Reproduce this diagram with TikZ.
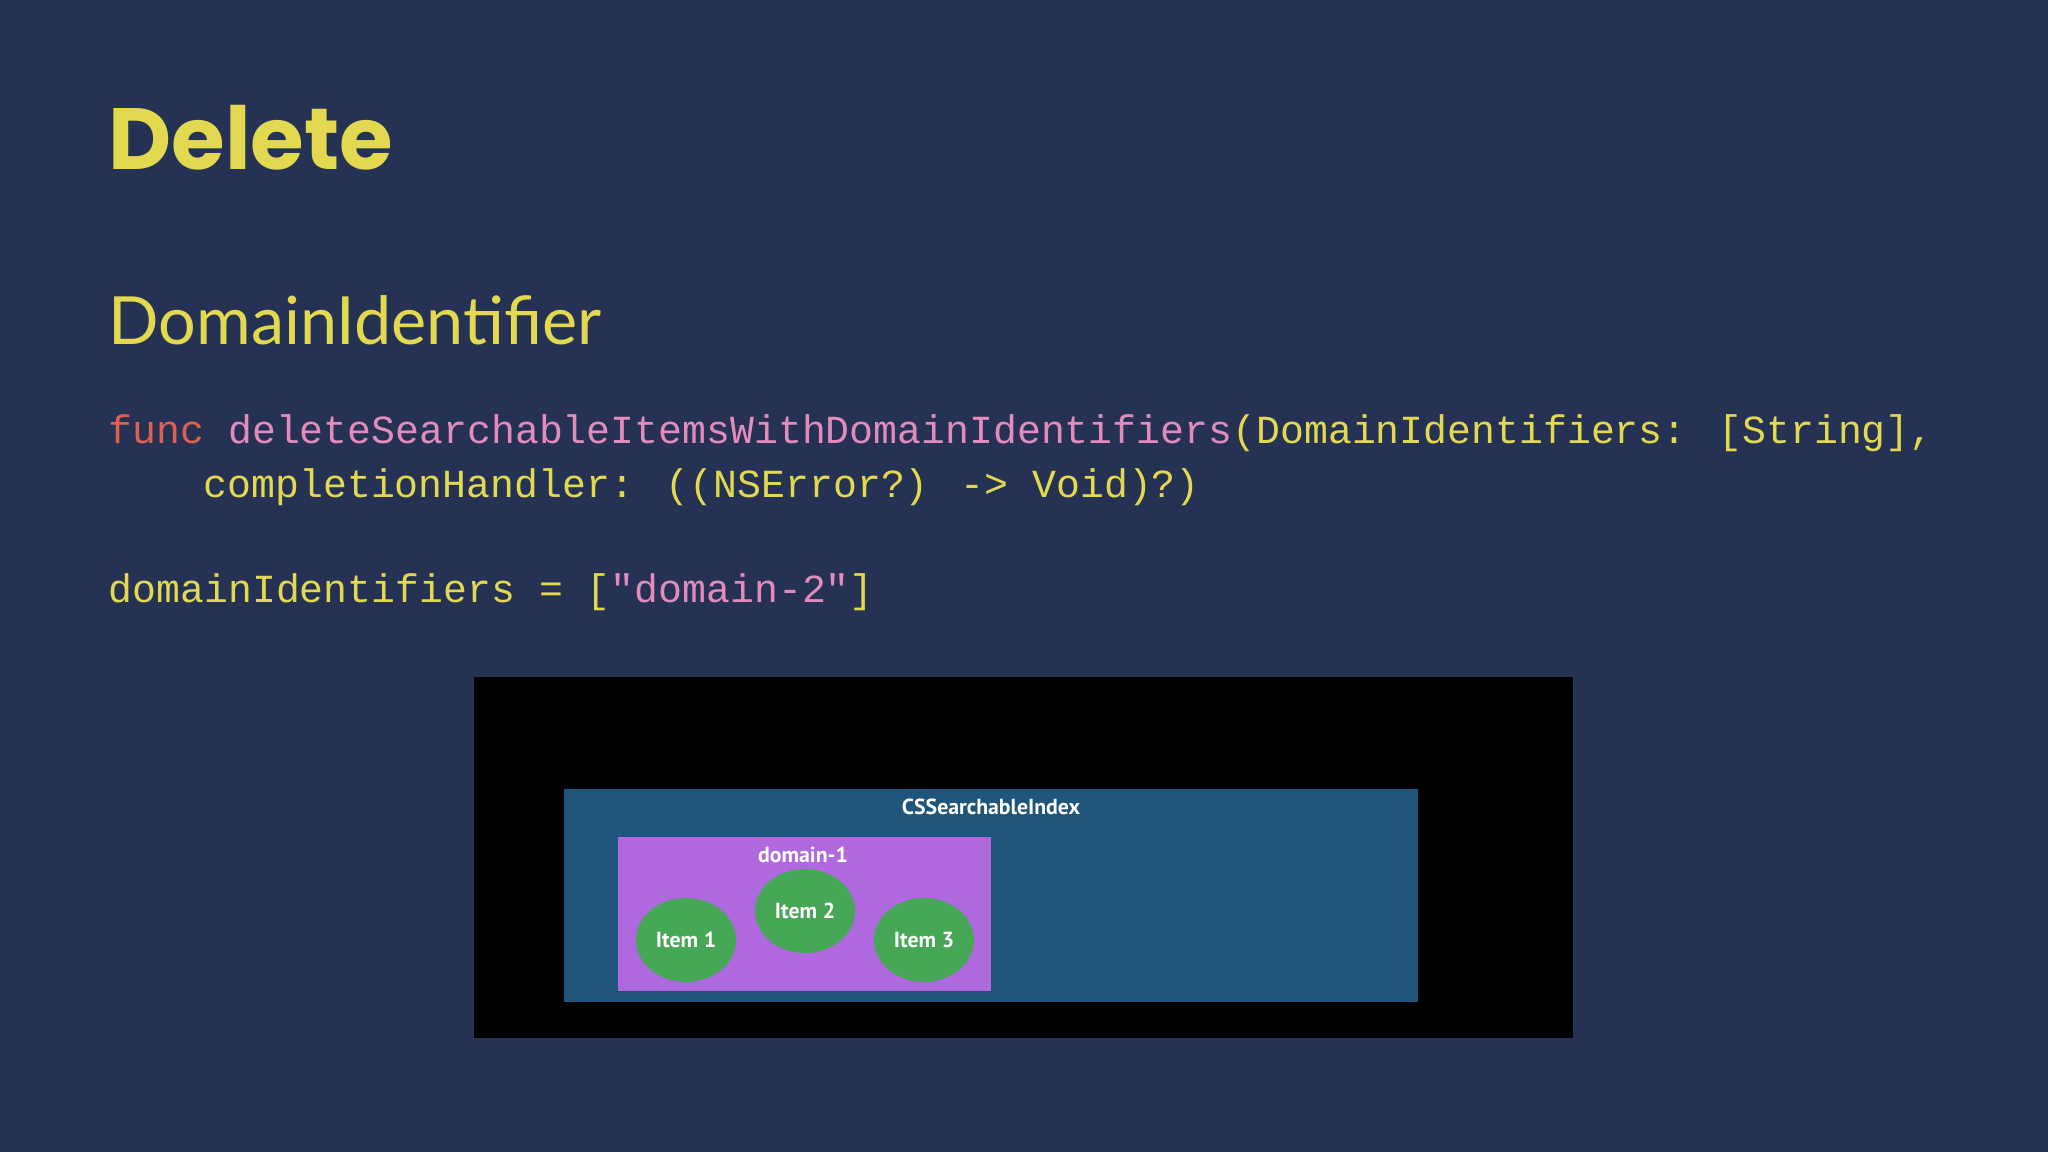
\documentclass[tikz,border=0pt]{standalone}
\usepackage{fontspec}
\setmainfont{Lato}
\newfontfamily\titlefont{Poppins}
\newfontfamily\codefont{Liberation Mono}
\newfontfamily\diagfont{PT Sans}
\usetikzlibrary{shapes.geometric}

\definecolor{bgblue}{RGB}{37,50,84}
\definecolor{slideyellow}{RGB}{226,217,80}
\definecolor{codepink}{RGB}{226,140,190}
\definecolor{funcred}{RGB}{222,96,80}
\definecolor{indexblue}{RGB}{31,85,122}
\definecolor{domainpurple}{RGB}{176,104,222}
\definecolor{itemgreen}{RGB}{70,168,86}

\begin{document}
\begin{tikzpicture}[x=0.01cm,y=-0.01cm,
	slidetext/.style={anchor=base west,inner sep=0pt,text=slideyellow},
	codeline/.style={slidetext,font=\codefont\fontsize{11.33}{13}\selectfont},
	boxlabel/.style={inner sep=0pt,text=white,font=\diagfont\bfseries\fontsize{6.2}{7}\selectfont},
	item/.style={ellipse,fill=itemgreen,minimum width=1cm,minimum height=0.84cm,inner sep=0pt,text=white,font=\diagfont\bfseries\fontsize{6.2}{7}\selectfont}]
	\fill[bgblue] (0,0) rectangle (2048,1152);

	% slide texts
	\node[slidetext,font=\titlefont\bfseries\fontsize{24.7}{30}\selectfont] (title) at (108,170) {Delete};
	\node[slidetext,font=\fontsize{18.9}{23}\selectfont] (subtitle) at (108,345) {DomainIdentifier};
	\node[codeline] (code1) at (108,444) {{\color{funcred}func} {\color{codepink}deleteSearchableItemsWithDomainIdentifiers}(DomainIdentifiers: [String],};
	\node[codeline] (code2) at (203,498) {completionHandler: ((NSError?) -> Void)?)};
	\node[codeline] (code3) at (108,603) {domainIdentifiers = [{\color{codepink}"domain-2"}]};

	% index picture
	\fill[black] (474,677) rectangle (1573,1038);
	\fill[indexblue] (564,789) rectangle (1418,1002);
	\fill[domainpurple] (618,837) rectangle (991,991);
	\node[boxlabel] (index) at (991,807) {CSSearchableIndex};
	\node[boxlabel] (domain) at (803,855) {domain-1};
	\node[item] (item1) at (686,940) {Item 1};
	\node[item] (item2) at (805,911) {Item 2};
	\node[item] (item3) at (924,940) {Item 3};
\end{tikzpicture}
\end{document}
